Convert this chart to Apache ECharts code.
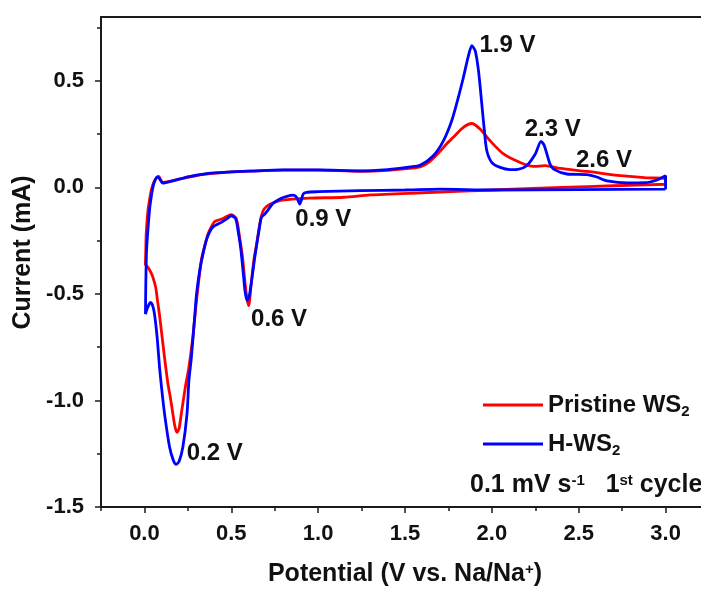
<!DOCTYPE html>
<html>
<head>
<meta charset="utf-8">
<script src="https://cdn.jsdelivr.net/npm/echarts@6/dist/echarts.min.js"></script>
<style>
html,body{margin:0;padding:0;background:#fff;}
#chart{width:701px;height:589px;}
</style>
</head>
<body>
<div id="chart"></div>
<script>
// ---- Data (Potential V vs. Na/Na+, Current mA), in scan order ----
const pristineWS2 = [
  [3.0, 0.015], [2.7, 0.008], [2.4, 0.0], [2.0, -0.012], [1.6, -0.025], [1.3, -0.035],
  [1.15, -0.046], [0.95, -0.05], [0.85, -0.055], [0.78, -0.062], [0.72, -0.08], [0.69, -0.1],
  [0.675, -0.13], [0.66, -0.19], [0.645, -0.27], [0.63, -0.34], [0.615, -0.45], [0.6, -0.555],
  [0.59, -0.52], [0.578, -0.44], [0.565, -0.33], [0.548, -0.235], [0.529, -0.147], [0.50, -0.128],
  [0.475, -0.135], [0.45, -0.147], [0.404, -0.16], [0.385, -0.185], [0.366, -0.218], [0.345, -0.28],
  [0.327, -0.344], [0.30, -0.53], [0.279, -0.70], [0.255, -0.85], [0.237, -0.93], [0.212, -1.064],
  [0.2, -1.13], [0.187, -1.15], [0.175, -1.12], [0.164, -1.064], [0.15, -0.99], [0.135, -0.92],
  [0.116, -0.80], [0.10, -0.69], [0.087, -0.60], [0.075, -0.53], [0.065, -0.47], [0.048, -0.42],
  [0.035, -0.395], [0.02, -0.375], [0.006, -0.36],
  [0.008, -0.29], [0.01, -0.22], [0.02, -0.11], [0.03, -0.055], [0.039, -0.015], [0.048, 0.012],
  [0.058, 0.031], [0.07, 0.047], [0.083, 0.052], [0.094, 0.035], [0.106, 0.024], [0.15, 0.03],
  [0.20, 0.039], [0.30, 0.056], [0.395, 0.066], [0.5, 0.073], [0.645, 0.078], [0.8, 0.081],
  [1.0, 0.081], [1.24, 0.076], [1.4, 0.08], [1.53, 0.09], [1.587, 0.096], [1.64, 0.12],
  [1.70, 0.168], [1.74, 0.205], [1.778, 0.235], [1.836, 0.282], [1.885, 0.30], [1.932, 0.274],
  [1.99, 0.219], [2.067, 0.157], [2.163, 0.117], [2.24, 0.099], [2.307, 0.102], [2.394, 0.089],
  [2.548, 0.075], [2.74, 0.055], [2.9, 0.045], [3.0, 0.04], [3.0, 0.015]
];
const hWS2 = [
  [3.0, -0.008], [2.5, -0.01], [2.0, -0.012], [1.7, -0.008], [1.5, -0.012], [1.24, -0.015],
  [1.0, -0.02], [0.933, -0.023], [0.914, -0.031], [0.903, -0.06], [0.894, -0.078], [0.885, -0.062],
  [0.872, -0.042], [0.855, -0.036], [0.82, -0.042], [0.785, -0.052], [0.74, -0.075], [0.712, -0.105],
  [0.693, -0.125], [0.673, -0.141], [0.66, -0.2], [0.648, -0.26], [0.635, -0.329], [0.62, -0.42],
  [0.602, -0.516], [0.59, -0.53], [0.578, -0.48], [0.571, -0.42], [0.555, -0.29], [0.539, -0.203],
  [0.525, -0.147], [0.50, -0.133], [0.47, -0.15], [0.443, -0.164], [0.395, -0.185], [0.375, -0.21],
  [0.356, -0.25], [0.335, -0.32], [0.318, -0.391], [0.30, -0.5], [0.289, -0.61], [0.27, -0.8],
  [0.256, -0.907], [0.245, -1.064], [0.221, -1.22], [0.2, -1.285], [0.183, -1.30], [0.166, -1.28],
  [0.145, -1.22], [0.116, -1.064], [0.1, -0.95], [0.087, -0.845], [0.075, -0.72], [0.065, -0.64],
  [0.055, -0.58], [0.045, -0.55], [0.036, -0.54], [0.027, -0.548], [0.016, -0.568], [0.006, -0.594],
  [0.008, -0.45], [0.012, -0.3], [0.02, -0.2], [0.03, -0.1], [0.04, -0.04], [0.05, 0.005],
  [0.064, 0.039], [0.078, 0.05], [0.09, 0.036], [0.106, 0.02], [0.164, 0.031], [0.25, 0.05],
  [0.4, 0.068], [0.65, 0.078], [0.8, 0.082], [1.0, 0.082], [1.24, 0.078], [1.4, 0.084],
  [1.53, 0.096], [1.587, 0.104], [1.663, 0.149], [1.721, 0.219], [1.769, 0.313], [1.807, 0.423],
  [1.836, 0.516], [1.865, 0.618], [1.885, 0.665], [1.904, 0.642], [1.923, 0.548], [1.942, 0.392],
  [1.957, 0.266], [1.971, 0.172], [2.0, 0.117], [2.048, 0.094], [2.105, 0.084], [2.15, 0.085],
  [2.20, 0.102], [2.25, 0.157], [2.283, 0.216], [2.3, 0.2], [2.317, 0.157], [2.335, 0.11],
  [2.355, 0.086], [2.432, 0.063], [2.548, 0.06], [2.6, 0.05], [2.663, 0.031], [2.78, 0.021],
  [2.88, 0.022], [2.95, 0.035], [3.0, 0.055], [3.0, -0.008]
];
const seriesNames = ['Pristine WS2', 'H-WS2'];
const annoText = ['1.9 V', '2.3 V', '2.6 V', '0.9 V', '0.6 V', '0.2 V'];
const annoX = [2.09, 2.35, 2.645, 1.03, 0.775, 0.405];
const annoY = [0.665, 0.274, 0.125, -0.148, -0.617, -1.25];
const xMajorTicks = [0, 0.5, 1.0, 1.5, 2.0, 2.5, 3.0];
const xMinorTicks = [-0.25, 0.25, 0.75, 1.25, 1.75, 2.25, 2.75, 3.25];
const yMajorTicks = [-1.5, -1.0, -0.5, 0.0, 0.5];
const yMinorTicks = [-1.25, -0.75, -0.25, 0.25, 0.75];

const FONT = "'Liberation Sans', Arial, sans-serif";
const AXIS_COLOR = '#1a1a1a';
const TEXT_COLOR = '#111111';
const chart = echarts.init(document.getElementById('chart'));

const annoData = annoText.map((t, i) => [annoX[i], annoY[i], t]);

const subStyle = {fontSize: 15, fontWeight: 'bold', fontFamily: FONT, color: TEXT_COLOR, verticalAlign: 'bottom', padding: [9, 0, 0, 0]};
const supStyle = {fontSize: 15, fontWeight: 'bold', fontFamily: FONT, color: TEXT_COLOR, verticalAlign: 'top', padding: [0, 0, 9, 0]};

const baseX = {
  type: 'value', min: -0.25, max: 3.25, gridIndex: 0,
  splitLine: {show: false}
};
const baseY = {
  type: 'value', min: -1.5, max: 0.8, gridIndex: 0,
  splitLine: {show: false}
};

const option = {
  animation: false,
  backgroundColor: '#ffffff',
  grid: {left: 101, top: 17, right: -8, bottom: 82, containLabel: false, outerBoundsMode: 'none'},
  legend: {
    data: [
      {name: 'Pristine WS2'},
      {name: 'H-WS2'}
    ],
    orient: 'vertical', left: 478, top: 386,
    icon: 'rect', itemWidth: 60, itemHeight: 3, itemGap: 11,
    formatter: n => n.replace('WS2', 'WS{sub|2}'),
    textStyle: {
      fontSize: 24, fontWeight: 'bold', fontFamily: FONT, color: TEXT_COLOR, lineHeight: 28,
      rich: {sub: subStyle}
    }
  },
  xAxis: [
    Object.assign({}, baseX, {
      position: 'bottom',
      name: 'Potential (V vs. Na/Na{sup|+})', nameLocation: 'middle', nameGap: 55,
      nameTextStyle: {fontSize: 25, fontWeight: 'bold', fontFamily: FONT, color: TEXT_COLOR,
        rich: {sup: supStyle}},
      axisLine: {onZero: false, lineStyle: {color: AXIS_COLOR, width: 2}},
      axisTick: {show: true, length: 6, customValues: xMajorTicks, lineStyle: {color: AXIS_COLOR, width: 1.5}},
      axisLabel: {show: true, customValues: xMajorTicks, margin: 16, formatter: v => v.toFixed(1),
        fontSize: 22, fontWeight: 'bold', fontFamily: FONT, color: TEXT_COLOR}
    }),
    Object.assign({}, baseX, {
      position: 'bottom',
      axisLine: {show: false, onZero: false},
      axisTick: {show: true, length: 4, customValues: xMinorTicks, lineStyle: {color: AXIS_COLOR, width: 1.5}},
      axisLabel: {show: false}
    }),
    Object.assign({}, baseX, {
      position: 'top',
      axisLine: {show: true, onZero: false, lineStyle: {color: AXIS_COLOR, width: 2}},
      axisTick: {show: false}, axisLabel: {show: false}
    })
  ],
  yAxis: [
    Object.assign({}, baseY, {
      position: 'left',
      name: 'Current (mA)', nameLocation: 'middle', nameGap: 64,
      nameTextStyle: {fontSize: 25, fontWeight: 'bold', fontFamily: FONT, color: TEXT_COLOR,
        padding: [0, 0, 0, 19]},
      axisLine: {onZero: false, lineStyle: {color: AXIS_COLOR, width: 2}},
      axisTick: {show: true, length: 6, customValues: yMajorTicks, lineStyle: {color: AXIS_COLOR, width: 1.5}},
      axisLabel: {show: true, customValues: yMajorTicks, margin: 17, formatter: v => v.toFixed(1),
        fontSize: 22, fontWeight: 'bold', fontFamily: FONT, color: TEXT_COLOR}
    }),
    Object.assign({}, baseY, {
      position: 'left',
      axisLine: {show: false, onZero: false},
      axisTick: {show: true, length: 4, customValues: yMinorTicks, lineStyle: {color: AXIS_COLOR, width: 1.5}},
      axisLabel: {show: false}
    })
  ],
  series: [
    {
      name: seriesNames[0], type: 'line', xAxisIndex: 0, yAxisIndex: 0,
      data: pristineWS2, showSymbol: false, smooth: 0.25,
      lineStyle: {color: '#ff0000', width: 2.8}, itemStyle: {color: '#ff0000'}
    },
    {
      name: seriesNames[1], type: 'line', xAxisIndex: 0, yAxisIndex: 0,
      data: hWS2, showSymbol: false, smooth: 0.25,
      lineStyle: {color: '#0000ff', width: 2.8}, itemStyle: {color: '#0000ff'}
    },
    {
      name: 'annotations', type: 'scatter', xAxisIndex: 0, yAxisIndex: 0,
      data: annoData, symbolSize: 0, silent: true,
      itemStyle: {opacity: 1},
      label: {show: true, position: 'inside', formatter: p => p.value[2], opacity: 1,
        fontSize: 24, fontWeight: 'bold', fontFamily: FONT, color: TEXT_COLOR}
    }
  ],
  graphic: [
    {
      type: 'text', left: 470, top: 473,
      style: {
        text: '0.1 mV s{sup|-1}   1{sup|st} cycle',
        fontSize: 25, fontWeight: 'bold', fontFamily: FONT, fill: TEXT_COLOR,
        rich: {sup: supStyle}
      }
    }
  ]
};
chart.setOption(option);
</script>
</body>
</html>
